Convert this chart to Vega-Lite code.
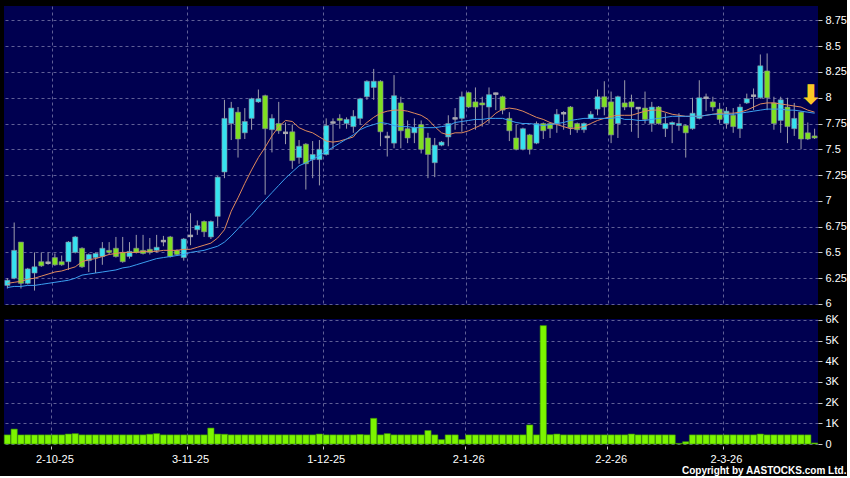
{
  "$schema": "https://vega.github.io/schema/vega-lite/v6.json",
  "background": "#000000",
  "padding": {"left": 3, "top": 6, "right": 0, "bottom": 0},
  "config": {
    "view": {"fill": "#000050", "stroke": null},
    "font": "Liberation Sans",
    "axis": {"labelColor": "#ffffff", "labelFont": "Liberation Sans", "labelFontSize": 11, "labelOverlap": false, "domain": false, "gridColor": "#5f5f96", "gridDash": [3, 3], "gridWidth": 1, "tickColor": "#c8c8c8", "title": null}
  },
  "title": {"text": "Copyright by AASTOCKS.com Ltd.", "orient": "bottom", "anchor": "end", "color": "#ffffff", "fontSize": 10, "fontWeight": "bold", "font": "Liberation Sans", "offset": 2},
  "datasets": {
    "px": [
      {"date":"2025-09-22","o":6.18,"h":6.25,"l":6.15,"c":6.23,"v":440,"m1":6.20,"m2":6.16},
      {"date":"2025-09-23","o":6.25,"h":6.79,"l":6.24,"c":6.52,"v":720,"m1":6.21,"m2":6.17},
      {"date":"2025-09-24","o":6.60,"h":6.60,"l":6.15,"c":6.20,"v":440,"m1":6.22,"m2":6.17},
      {"date":"2025-09-25","o":6.20,"h":6.35,"l":6.19,"c":6.34,"v":440,"m1":6.24,"m2":6.18},
      {"date":"2025-09-26","o":6.30,"h":6.50,"l":6.13,"c":6.36,"v":440,"m1":6.25,"m2":6.18},
      {"date":"2025-09-29","o":6.41,"h":6.50,"l":6.36,"c":6.37,"v":440,"m1":6.27,"m2":6.19},
      {"date":"2025-09-30","o":6.40,"h":6.50,"l":6.38,"c":6.40,"v":440,"m1":6.29,"m2":6.20},
      {"date":"2025-10-02","o":6.45,"h":6.49,"l":6.37,"c":6.38,"v":440,"m1":6.31,"m2":6.21},
      {"date":"2025-10-03","o":6.41,"h":6.47,"l":6.37,"c":6.38,"v":440,"m1":6.32,"m2":6.22},
      {"date":"2025-10-06","o":6.41,"h":6.61,"l":6.33,"c":6.60,"v":480,"m1":6.34,"m2":6.23},
      {"date":"2025-10-08","o":6.50,"h":6.66,"l":6.49,"c":6.65,"v":500,"m1":6.36,"m2":6.25},
      {"date":"2025-10-09","o":6.54,"h":6.55,"l":6.35,"c":6.36,"v":440,"m1":6.41,"m2":6.28},
      {"date":"2025-10-10","o":6.42,"h":6.49,"l":6.31,"c":6.48,"v":440,"m1":6.43,"m2":6.29},
      {"date":"2025-10-13","o":6.45,"h":6.50,"l":6.30,"c":6.49,"v":440,"m1":6.44,"m2":6.30},
      {"date":"2025-10-14","o":6.46,"h":6.60,"l":6.38,"c":6.54,"v":440,"m1":6.46,"m2":6.31},
      {"date":"2025-10-15","o":6.52,"h":6.60,"l":6.48,"c":6.50,"v":440,"m1":6.48,"m2":6.32},
      {"date":"2025-10-16","o":6.54,"h":6.65,"l":6.45,"c":6.46,"v":440,"m1":6.49,"m2":6.33},
      {"date":"2025-10-17","o":6.50,"h":6.65,"l":6.40,"c":6.41,"v":440,"m1":6.50,"m2":6.35},
      {"date":"2025-10-20","o":6.46,"h":6.60,"l":6.44,"c":6.51,"v":440,"m1":6.50,"m2":6.36},
      {"date":"2025-10-21","o":6.54,"h":6.67,"l":6.49,"c":6.50,"v":440,"m1":6.50,"m2":6.38},
      {"date":"2025-10-22","o":6.52,"h":6.67,"l":6.48,"c":6.49,"v":440,"m1":6.51,"m2":6.40},
      {"date":"2025-10-23","o":6.53,"h":6.64,"l":6.48,"c":6.50,"v":470,"m1":6.51,"m2":6.42},
      {"date":"2025-10-24","o":6.52,"h":6.67,"l":6.50,"c":6.55,"v":500,"m1":6.51,"m2":6.44},
      {"date":"2025-10-27","o":6.61,"h":6.66,"l":6.56,"c":6.61,"v":440,"m1":6.52,"m2":6.45},
      {"date":"2025-10-28","o":6.65,"h":6.66,"l":6.45,"c":6.46,"v":440,"m1":6.52,"m2":6.46},
      {"date":"2025-10-30","o":6.52,"h":6.53,"l":6.47,"c":6.48,"v":440,"m1":6.52,"m2":6.47},
      {"date":"2025-10-31","o":6.45,"h":6.64,"l":6.42,"c":6.63,"v":440,"m1":6.53,"m2":6.48},
      {"date":"2025-11-03","o":6.66,"h":6.88,"l":6.57,"c":6.66,"v":440,"m1":6.53,"m2":6.50},
      {"date":"2025-11-04","o":6.72,"h":6.81,"l":6.67,"c":6.76,"v":440,"m1":6.55,"m2":6.51},
      {"date":"2025-11-05","o":6.80,"h":6.81,"l":6.65,"c":6.70,"v":440,"m1":6.57,"m2":6.52},
      {"date":"2025-11-06","o":6.65,"h":6.81,"l":6.63,"c":6.80,"v":770,"m1":6.59,"m2":6.54},
      {"date":"2025-11-07","o":6.85,"h":7.24,"l":6.75,"c":7.23,"v":480,"m1":6.64,"m2":6.56},
      {"date":"2025-11-10","o":7.28,"h":7.98,"l":7.22,"c":7.80,"v":470,"m1":6.72,"m2":6.60},
      {"date":"2025-11-11","o":7.75,"h":7.96,"l":7.59,"c":7.90,"v":440,"m1":6.90,"m2":6.66},
      {"date":"2025-11-12","o":7.86,"h":7.91,"l":7.42,"c":7.60,"v":440,"m1":7.03,"m2":6.73},
      {"date":"2025-11-13","o":7.66,"h":7.90,"l":7.60,"c":7.77,"v":440,"m1":7.17,"m2":6.80},
      {"date":"2025-11-14","o":7.80,"h":8.00,"l":7.69,"c":7.99,"v":440,"m1":7.30,"m2":6.86},
      {"date":"2025-11-17","o":7.96,"h":8.08,"l":7.95,"c":7.99,"v":440,"m1":7.42,"m2":6.94},
      {"date":"2025-11-18","o":8.02,"h":8.03,"l":7.06,"c":7.70,"v":440,"m1":7.52,"m2":7.01},
      {"date":"2025-11-19","o":7.69,"h":7.84,"l":7.47,"c":7.80,"v":440,"m1":7.63,"m2":7.08},
      {"date":"2025-11-20","o":7.75,"h":7.96,"l":7.65,"c":7.68,"v":440,"m1":7.72,"m2":7.15},
      {"date":"2025-11-21","o":7.66,"h":7.76,"l":7.55,"c":7.66,"v":440,"m1":7.78,"m2":7.22},
      {"date":"2025-11-24","o":7.67,"h":7.74,"l":7.31,"c":7.39,"v":440,"m1":7.77,"m2":7.28},
      {"date":"2025-11-25","o":7.42,"h":7.59,"l":7.36,"c":7.53,"v":440,"m1":7.71,"m2":7.34},
      {"date":"2025-11-26","o":7.55,"h":7.56,"l":7.11,"c":7.36,"v":440,"m1":7.68,"m2":7.37},
      {"date":"2025-11-27","o":7.40,"h":7.58,"l":7.22,"c":7.45,"v":440,"m1":7.66,"m2":7.40},
      {"date":"2025-11-28","o":7.40,"h":7.59,"l":7.15,"c":7.50,"v":480,"m1":7.62,"m2":7.44},
      {"date":"2025-12-01","o":7.45,"h":7.80,"l":7.44,"c":7.73,"v":440,"m1":7.58,"m2":7.48},
      {"date":"2025-12-02","o":7.76,"h":7.80,"l":7.50,"c":7.76,"v":440,"m1":7.57,"m2":7.52},
      {"date":"2025-12-03","o":7.80,"h":7.84,"l":7.70,"c":7.78,"v":440,"m1":7.58,"m2":7.56},
      {"date":"2025-12-04","o":7.75,"h":7.81,"l":7.70,"c":7.79,"v":440,"m1":7.60,"m2":7.60},
      {"date":"2025-12-05","o":7.72,"h":7.88,"l":7.66,"c":7.82,"v":440,"m1":7.62,"m2":7.64},
      {"date":"2025-12-08","o":7.80,"h":8.00,"l":7.74,"c":7.99,"v":460,"m1":7.70,"m2":7.69},
      {"date":"2025-12-09","o":8.01,"h":8.17,"l":7.98,"c":8.16,"v":440,"m1":7.76,"m2":7.72},
      {"date":"2025-12-10","o":8.10,"h":8.28,"l":7.98,"c":8.16,"v":1240,"m1":7.81,"m2":7.74},
      {"date":"2025-12-11","o":8.16,"h":8.17,"l":7.53,"c":7.67,"v":440,"m1":7.85,"m2":7.76},
      {"date":"2025-12-12","o":7.62,"h":7.67,"l":7.43,"c":7.62,"v":500,"m1":7.87,"m2":7.75},
      {"date":"2025-12-15","o":7.56,"h":8.22,"l":7.51,"c":8.02,"v":440,"m1":7.88,"m2":7.73},
      {"date":"2025-12-16","o":7.95,"h":8.01,"l":7.51,"c":7.68,"v":440,"m1":7.88,"m2":7.72},
      {"date":"2025-12-17","o":7.70,"h":7.78,"l":7.56,"c":7.61,"v":440,"m1":7.87,"m2":7.72},
      {"date":"2025-12-18","o":7.66,"h":7.80,"l":7.56,"c":7.71,"v":440,"m1":7.85,"m2":7.71},
      {"date":"2025-12-19","o":7.74,"h":7.78,"l":7.46,"c":7.50,"v":440,"m1":7.83,"m2":7.71},
      {"date":"2025-12-22","o":7.61,"h":7.66,"l":7.22,"c":7.45,"v":650,"m1":7.79,"m2":7.71},
      {"date":"2025-12-23","o":7.37,"h":7.61,"l":7.23,"c":7.54,"v":440,"m1":7.72,"m2":7.71},
      {"date":"2025-12-24","o":7.54,"h":7.58,"l":7.53,"c":7.57,"v":210,"m1":7.66,"m2":7.72},
      {"date":"2025-12-29","o":7.62,"h":7.83,"l":7.53,"c":7.75,"v":440,"m1":7.64,"m2":7.73},
      {"date":"2025-12-30","o":7.80,"h":7.90,"l":7.69,"c":7.80,"v":440,"m1":7.66,"m2":7.76},
      {"date":"2025-12-31","o":7.80,"h":8.06,"l":7.67,"c":8.01,"v":210,"m1":7.66,"m2":7.77},
      {"date":"2026-01-02","o":8.05,"h":8.06,"l":7.90,"c":7.91,"v":440,"m1":7.68,"m2":7.78},
      {"date":"2026-01-05","o":7.96,"h":8.10,"l":7.69,"c":7.91,"v":440,"m1":7.71,"m2":7.79},
      {"date":"2026-01-06","o":7.95,"h":8.01,"l":7.72,"c":7.93,"v":440,"m1":7.74,"m2":7.79},
      {"date":"2026-01-07","o":7.91,"h":8.10,"l":7.75,"c":8.03,"v":440,"m1":7.79,"m2":7.80},
      {"date":"2026-01-08","o":8.04,"h":8.05,"l":7.88,"c":8.04,"v":440,"m1":7.85,"m2":7.80},
      {"date":"2026-01-09","o":8.01,"h":8.02,"l":7.84,"c":7.88,"v":440,"m1":7.89,"m2":7.80},
      {"date":"2026-01-12","o":7.80,"h":7.86,"l":7.58,"c":7.68,"v":440,"m1":7.90,"m2":7.78},
      {"date":"2026-01-13","o":7.61,"h":7.74,"l":7.49,"c":7.50,"v":440,"m1":7.89,"m2":7.76},
      {"date":"2026-01-14","o":7.50,"h":7.71,"l":7.49,"c":7.70,"v":440,"m1":7.87,"m2":7.75},
      {"date":"2026-01-15","o":7.64,"h":7.65,"l":7.45,"c":7.50,"v":920,"m1":7.84,"m2":7.75},
      {"date":"2026-01-16","o":7.56,"h":7.77,"l":7.55,"c":7.75,"v":440,"m1":7.81,"m2":7.74},
      {"date":"2026-01-19","o":7.75,"h":7.76,"l":7.60,"c":7.68,"v":5720,"m1":7.79,"m2":7.73},
      {"date":"2026-01-20","o":7.75,"h":7.76,"l":7.61,"c":7.70,"v":450,"m1":7.76,"m2":7.74},
      {"date":"2026-01-21","o":7.75,"h":7.89,"l":7.66,"c":7.84,"v":480,"m1":7.74,"m2":7.75},
      {"date":"2026-01-22","o":7.85,"h":7.87,"l":7.69,"c":7.85,"v":440,"m1":7.72,"m2":7.76},
      {"date":"2026-01-23","o":7.91,"h":7.92,"l":7.64,"c":7.71,"v":440,"m1":7.70,"m2":7.78},
      {"date":"2026-01-26","o":7.75,"h":7.76,"l":7.66,"c":7.69,"v":440,"m1":7.71,"m2":7.79},
      {"date":"2026-01-27","o":7.69,"h":7.76,"l":7.66,"c":7.75,"v":440,"m1":7.72,"m2":7.80},
      {"date":"2026-01-28","o":7.80,"h":7.87,"l":7.79,"c":7.84,"v":440,"m1":7.75,"m2":7.80},
      {"date":"2026-01-29","o":7.89,"h":8.08,"l":7.83,"c":8.01,"v":440,"m1":7.78,"m2":7.80},
      {"date":"2026-01-30","o":8.01,"h":8.16,"l":7.83,"c":7.91,"v":440,"m1":7.80,"m2":7.80},
      {"date":"2026-02-02","o":7.96,"h":8.06,"l":7.56,"c":7.64,"v":440,"m1":7.82,"m2":7.80},
      {"date":"2026-02-03","o":7.75,"h":8.02,"l":7.61,"c":8.01,"v":440,"m1":7.83,"m2":7.81},
      {"date":"2026-02-04","o":7.95,"h":8.17,"l":7.88,"c":7.91,"v":440,"m1":7.83,"m2":7.79},
      {"date":"2026-02-05","o":7.96,"h":8.03,"l":7.67,"c":7.91,"v":480,"m1":7.83,"m2":7.79},
      {"date":"2026-02-06","o":7.90,"h":7.91,"l":7.61,"c":7.90,"v":440,"m1":7.85,"m2":7.78},
      {"date":"2026-02-09","o":7.90,"h":8.06,"l":7.75,"c":7.79,"v":440,"m1":7.87,"m2":7.78},
      {"date":"2026-02-10","o":7.75,"h":7.96,"l":7.67,"c":7.91,"v":440,"m1":7.88,"m2":7.79},
      {"date":"2026-02-11","o":7.91,"h":7.92,"l":7.74,"c":7.75,"v":440,"m1":7.88,"m2":7.80},
      {"date":"2026-02-12","o":7.70,"h":7.85,"l":7.62,"c":7.75,"v":440,"m1":7.86,"m2":7.81},
      {"date":"2026-02-13","o":7.74,"h":7.77,"l":7.56,"c":7.76,"v":440,"m1":7.84,"m2":7.82},
      {"date":"2026-02-16","o":7.73,"h":7.85,"l":7.68,"c":7.75,"v":30,"m1":7.83,"m2":7.82},
      {"date":"2026-02-20","o":7.73,"h":7.74,"l":7.42,"c":7.66,"v":110,"m1":7.82,"m2":7.82},
      {"date":"2026-02-23","o":7.70,"h":8.00,"l":7.69,"c":7.85,"v":440,"m1":7.82,"m2":7.82},
      {"date":"2026-02-24","o":7.80,"h":8.17,"l":7.79,"c":8.00,"v":440,"m1":7.82,"m2":7.82},
      {"date":"2026-02-25","o":8.00,"h":8.04,"l":7.87,"c":8.00,"v":440,"m1":7.83,"m2":7.83},
      {"date":"2026-02-26","o":7.96,"h":8.01,"l":7.87,"c":7.91,"v":440,"m1":7.84,"m2":7.84},
      {"date":"2026-02-27","o":7.89,"h":7.95,"l":7.75,"c":7.79,"v":440,"m1":7.85,"m2":7.84},
      {"date":"2026-03-02","o":7.75,"h":7.91,"l":7.70,"c":7.87,"v":440,"m1":7.85,"m2":7.84},
      {"date":"2026-03-03","o":7.83,"h":7.90,"l":7.66,"c":7.72,"v":440,"m1":7.85,"m2":7.84},
      {"date":"2026-03-04","o":7.70,"h":7.94,"l":7.61,"c":7.91,"v":440,"m1":7.86,"m2":7.85},
      {"date":"2026-03-05","o":7.95,"h":8.04,"l":7.94,"c":7.99,"v":440,"m1":7.88,"m2":7.86},
      {"date":"2026-03-06","o":8.02,"h":8.09,"l":7.88,"c":8.02,"v":440,"m1":7.91,"m2":7.87},
      {"date":"2026-03-09","o":8.00,"h":8.42,"l":7.99,"c":8.31,"v":480,"m1":7.94,"m2":7.88},
      {"date":"2026-03-10","o":8.26,"h":8.43,"l":7.88,"c":8.00,"v":440,"m1":7.95,"m2":7.89},
      {"date":"2026-03-11","o":7.95,"h":8.01,"l":7.69,"c":7.75,"v":440,"m1":7.95,"m2":7.89},
      {"date":"2026-03-12","o":7.78,"h":8.01,"l":7.66,"c":7.98,"v":440,"m1":7.94,"m2":7.89},
      {"date":"2026-03-13","o":7.91,"h":8.00,"l":7.56,"c":7.72,"v":440,"m1":7.93,"m2":7.88},
      {"date":"2026-03-16","o":7.70,"h":7.95,"l":7.63,"c":7.80,"v":440,"m1":7.92,"m2":7.88},
      {"date":"2026-03-17","o":7.86,"h":7.87,"l":7.50,"c":7.60,"v":440,"m1":7.91,"m2":7.87},
      {"date":"2026-03-18","o":7.66,"h":7.76,"l":7.59,"c":7.60,"v":440,"m1":7.88,"m2":7.86},
      {"date":"2026-03-19","o":7.63,"h":7.70,"l":7.60,"c":7.61,"v":50,"m1":7.86,"m2":7.85}
    ],
    "marker": [{"date": "2026-03-18", "p": 8.02, "sym": "⬇"}]
  },
  "resolve": {"scale": {"x": "independent"}},
  "spacing": 4,
  "vconcat": [
    {
      "width": 814,
      "height": 299,
      "data": {"name": "px"},
      "encoding": {
        "x": {"field": "date", "type": "ordinal", "scale": {"paddingInner": 0.25, "paddingOuter": 0.125},
              "axis": {"values": ["2025-10-02","2025-11-03","2025-12-01","2026-01-02","2026-02-02","2026-03-02"], "bandPosition": 0, "grid": true, "labels": false, "ticks": false, "domain": false}}
      },
      "layer": [
        {
          "mark": {"type": "rule", "color": "#9c9cac", "strokeWidth": 1},
          "encoding": {
            "y": {"field": "l", "type": "quantitative", "scale": {"domain": [5.99, 8.89], "nice": false, "zero": false},
                  "axis": {"orient": "right", "values": [6, 6.25, 6.5, 6.75, 7, 7.25, 7.5, 7.75, 8, 8.25, 8.5, 8.75], "labelExpr": "datum.value + ''", "grid": true, "tickSize": 4, "labelPadding": 3, "labelOverlap": false}},
            "y2": {"field": "h"}
          }
        },
        {
          "mark": {"type": "bar", "stroke": "#8c8c9c", "strokeWidth": 0.6},
          "encoding": {
            "y": {"field": "o", "type": "quantitative",
                  "axis": {"orient": "right", "values": [6, 6.25, 6.5, 6.75, 7, 7.25, 7.5, 7.75, 8, 8.25, 8.5, 8.75], "labelExpr": "datum.value + ''", "grid": true, "tickSize": 4, "labelPadding": 3, "labelOverlap": false}},
            "y2": {"field": "c"},
            "color": {"condition": {"test": "datum.c > datum.o", "value": "#36e2f0"}, "value": "#7fe021"}
          }
        },
        {
          "transform": [{"filter": "datum.o == datum.c"}],
          "mark": {"type": "tick", "color": "#a8a8b0", "thickness": 2.5, "size": 5, "opacity": 1},
          "encoding": {"y": {"field": "c", "type": "quantitative",
                  "axis": {"orient": "right", "values": [6, 6.25, 6.5, 6.75, 7, 7.25, 7.5, 7.75, 8, 8.25, 8.5, 8.75], "labelExpr": "datum.value + ''", "grid": true, "tickSize": 4, "labelPadding": 3, "labelOverlap": false}}}
        },
        {
          "mark": {"type": "line", "color": "#e08a5c", "strokeWidth": 1},
          "encoding": {"y": {"field": "m1", "type": "quantitative",
                  "axis": {"orient": "right", "values": [6, 6.25, 6.5, 6.75, 7, 7.25, 7.5, 7.75, 8, 8.25, 8.5, 8.75], "labelExpr": "datum.value + ''", "grid": true, "tickSize": 4, "labelPadding": 3, "labelOverlap": false}}}
        },
        {
          "mark": {"type": "line", "color": "#3b9ff0", "strokeWidth": 1},
          "encoding": {"y": {"field": "m2", "type": "quantitative",
                  "axis": {"orient": "right", "values": [6, 6.25, 6.5, 6.75, 7, 7.25, 7.5, 7.75, 8, 8.25, 8.5, 8.75], "labelExpr": "datum.value + ''", "grid": true, "tickSize": 4, "labelPadding": 3, "labelOverlap": false}}}
        },
        {
          "data": {"name": "marker"},
          "mark": {"type": "text", "color": "#fbc823", "font": "DejaVu Sans", "fontSize": 27, "fontWeight": "bold", "baseline": "middle", "align": "center", "dx": 3},
          "encoding": {
            "y": {"field": "p", "type": "quantitative",
                  "axis": {"orient": "right", "values": [6, 6.25, 6.5, 6.75, 7, 7.25, 7.5, 7.75, 8, 8.25, 8.5, 8.75], "labelExpr": "datum.value + ''", "grid": true, "tickSize": 4, "labelPadding": 3, "labelOverlap": false}},
            "text": {"field": "sym"}
          }
        }
      ]
    },
    {
      "width": 814,
      "height": 125,
      "data": {"name": "px"},
      "mark": {"type": "bar", "color": "#7cf500", "stroke": "#3f9a00", "strokeWidth": 0.6},
      "encoding": {
        "x": {"field": "date", "type": "ordinal", "scale": {"paddingInner": 0.08, "paddingOuter": 0.04},
              "axis": {"values": ["2025-10-02","2025-11-03","2025-12-01","2026-01-02","2026-02-02","2026-03-02"], "bandPosition": 0, "grid": true, "labelAngle": 0, "tickSize": 3, "offset": 2, "labelPadding": 4,
                       "labelExpr": "toNumber(substring(datum.value,8,10)) + '-' + toNumber(substring(datum.value,5,7)) + '-' + substring(datum.value,2,4)"}},
        "y": {"field": "v", "type": "quantitative", "scale": {"domain": [0, 6040], "nice": false},
              "axis": {"orient": "right", "values": [0, 1000, 2000, 3000, 4000, 5000, 6000], "grid": true, "tickSize": 4, "labelPadding": 3,
                       "labelExpr": "datum.value == 0 ? '0' : (datum.value / 1000) + 'K'"}}
      }
    }
  ]
}
